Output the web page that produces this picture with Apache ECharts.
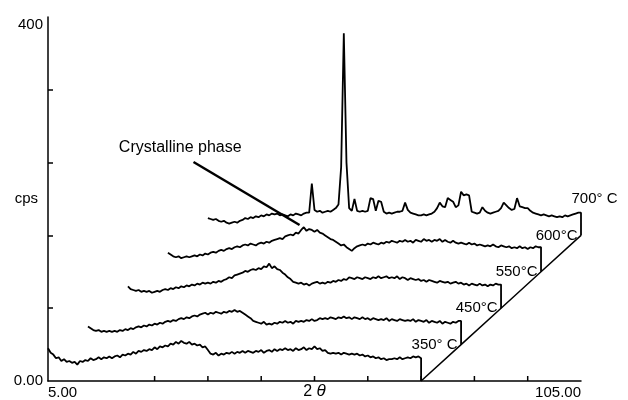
<!DOCTYPE html>
<html>
<head>
<meta charset="utf-8">
<script src="https://cdn.jsdelivr.net/npm/echarts@6.0.0/dist/echarts.min.js"></script>
<style>
  html, body { margin: 0; padding: 0; background: #fff; }
  #main { width: 628px; height: 400px; }
</style>
</head>
<body>
<div id="main"></div>
<script>
// 每条曲线从 2θ = 5° 开始，步长 0.5°，共 141 个点（到 75°）
const thetaStart = 5
const thetaStep = 0.5
// 瀑布图：每条曲线相对上一条的错位
const shiftTheta = 7.5
const shiftCps = 40

const temps = ['350° C', '450°C', '550°C', '600°C', '700° C']

const cps350 = [
  36, 31, 29, 25, 26, 22, 24, 21, 22, 20,
  21, 18, 22, 21, 23, 22, 25, 23, 24, 26,
  24, 26, 25, 27, 25, 27, 28, 26, 29, 28,
  30, 29, 32, 30, 33, 32, 34, 33, 35, 34,
  37, 35, 38, 37, 39, 38, 41, 40, 43, 41,
  44, 42, 41, 43, 40, 41, 39, 40, 37, 38,
  34, 30, 29, 31, 28, 30, 29, 31, 30, 32,
  30, 32, 31, 33, 31, 33, 32, 31, 33, 32,
  34, 31, 33, 34, 32, 35, 33, 35, 34, 36,
  34, 35, 33, 36, 34, 35, 37, 34, 36, 35,
  38, 35, 36, 33, 34, 31, 30, 31, 30, 31,
  29, 31, 30, 29, 30, 29, 30, 28, 29, 27,
  28, 26, 27, 25, 26, 24, 25, 23, 24, 24,
  25, 24, 26, 24, 25, 26, 25, 27, 26, 27,
  25
]
const cps450 = [
  20, 18, 16, 15, 16, 14, 15, 14, 15, 14,
  15, 14, 16, 15, 17, 16, 18, 17, 19, 20,
  19, 21, 20, 22, 21, 23, 22, 24, 23, 25,
  26, 25, 27, 26, 28, 29, 28, 30, 29, 31,
  32, 31, 33, 34, 35, 33, 35, 34, 36, 35,
  34, 36, 35, 37, 36, 38, 36, 37, 35, 33,
  31, 29, 26, 25, 24, 23, 25, 22, 23, 22,
  24, 23, 25, 24, 26, 24, 25, 23, 26, 25,
  26, 25, 27, 26, 28, 26, 27, 29, 28, 29,
  28, 30, 29, 28, 30, 29, 31, 29, 30, 28,
  30, 29, 28, 30, 28, 29, 27, 29, 28, 27,
  28, 27, 29, 26, 28, 27, 26, 28, 27, 26,
  27, 26, 28, 25, 27, 26, 25, 27, 24, 26,
  25, 24, 26, 23, 25, 24, 23, 25, 24, 26,
  26
]
const cps550 = [
  24, 21, 20, 19, 20, 18, 19, 18, 19, 17,
  18, 19, 18, 20, 21, 20, 22, 21, 23, 22,
  24, 23, 25, 24, 26, 25, 27, 26, 28, 27,
  28, 27, 29, 28, 30, 29, 31, 32, 34, 33,
  36, 37, 38, 39, 41, 40, 42, 43, 42, 44,
  43, 46, 45, 49, 44, 46, 43, 42, 39, 37,
  34, 32, 29, 28, 27, 28, 26, 27, 25, 27,
  28, 29, 27, 28, 27, 29, 28, 30, 29, 31,
  30, 32, 31, 34, 33, 32, 34, 33, 32, 34,
  33, 32, 34, 33, 35, 33, 34, 35, 33, 34,
  33, 35, 32, 34, 33, 31, 33, 32, 31, 32,
  30, 31, 29, 31, 30, 29, 28, 30, 29, 28,
  29, 27, 28, 29, 27, 28, 26, 27, 25, 27,
  26, 25, 27, 25, 26, 24, 26, 25, 27, 26,
  26
]
const cps600 = [
  21, 19, 17, 16, 17, 15, 16, 17, 16, 17,
  18, 17, 19, 18, 20, 19, 21, 22, 21, 23,
  24, 23, 25, 26, 25, 27, 28, 27, 29, 30,
  29, 31, 30, 29, 31, 32, 31, 33, 32, 34,
  35, 36, 37, 36, 39, 40, 41, 40, 43, 42,
  46, 49, 45, 47, 46, 44, 46, 43, 42, 40,
  38, 36, 35, 33, 31, 29, 30, 27, 25, 23,
  26, 28, 29, 30, 29, 31, 30, 32, 31, 30,
  32, 31, 33, 32, 34, 33, 32, 34, 33, 35,
  33, 34, 32, 35, 34, 33, 36, 34, 35, 33,
  35, 34, 36, 33, 35, 33, 32, 34, 32, 31,
  32, 31, 30, 32, 30, 31, 29, 30, 29, 28,
  29, 28, 30, 28, 27, 29, 28, 27, 28, 26,
  27, 26, 28, 26, 27, 25, 27, 26, 28, 27,
  27
]
const cps700 = [
  19, 18, 17, 18, 16, 15, 16, 14, 13, 14,
  15, 14, 16, 17, 19, 18, 20, 19, 21, 20,
  22, 21, 23, 22, 24, 23, 24, 22, 23, 22,
  21, 23, 22, 24, 23, 22, 24, 25, 25, 57,
  28, 26, 27, 25, 26, 27, 26, 28, 30, 34,
  75, 222, 80, 30, 27, 40, 27, 26, 27, 26,
  27, 41, 40, 27, 38, 37, 26, 24, 25, 24,
  25, 26, 26, 27, 36, 28, 25, 24, 23, 22,
  22, 23, 22, 23, 24, 26, 30, 36, 32, 31,
  41, 39, 37, 31, 33, 48, 44, 45, 44, 26,
  25, 24, 25, 31, 27, 25, 24, 25, 26, 27,
  30, 36, 33, 30, 28, 29, 41, 32, 31, 30,
  30, 27, 25, 24, 23, 22, 23, 22, 21, 22,
  21, 20, 21, 20, 22, 21, 22, 23, 24, 25,
  25
]
const traces = [cps350, cps450, cps550, cps600, cps700]

const xLabelValues = [5, 105]
const xLabelTexts = ['5.00', '105.00']
const xTickValues = [25, 35, 45, 55, 65, 75, 85, 95]
const yLabelValues = [0, 400]
const yLabelTexts = ['0.00', '400']
const yTickValues = [80, 160, 240, 320]

// 注释文字和箭头（数据坐标）
const noteText = 'Crystalline phase'
const notePos = [18.2, 257]
const arrowFrom = [32.3, 240.7]
const arrowTo = [52.2, 171.4]

const FONT = 'Liberation Sans, Arial, sans-serif'

const chartDom = document.getElementById('main')
const myChart = echarts.init(chartDom)

const thetaEnd = thetaStart + thetaStep * (cps350.length - 1)

const traceSeries = traces.map((vals, i) => {
  const dx = shiftTheta * i
  const dy = shiftCps * i
  const pts = vals.map((v, k) => [thetaStart + thetaStep * k + dx, v + dy])
  // 右端竖线落到斜基线
  pts.push([pts[pts.length - 1][0], dy])
  return {
    name: temps[i],
    type: 'line',
    data: pts,
    symbol: 'none',
    clip: false,
    silent: true,
    lineStyle: { color: '#000', width: 1.8 },
  }
})

// 斜基线
const baseLine = traces.map((_, i) => [thetaEnd + shiftTheta * i, shiftCps * i])

const labelStyle = { color: '#000', opacity: 1, fontSize: 15, fontFamily: FONT }

var option
option = {
  animation: false,
  backgroundColor: '#fff',
  grid: { left: 48, right: 47, top: 17, bottom: 19, containLabel: false, outerBoundsMode: 'none' },
  xAxis: {
    type: 'value',
    min: 5,
    max: 105,
    interval: 10,
    name: '{n|2 }{t|θ}',
    nameLocation: 'middle',
    nameGap: 2,
    nameMoveOverlap: false,
    nameTextStyle: {
      ...labelStyle,
      verticalAlign: 'top',
      rich: {
        n: { ...labelStyle, fontSize: 16 },
        t: { ...labelStyle, fontSize: 17, fontStyle: 'italic' },
      },
    },
    axisLine: { show: true, onZero: false, lineStyle: { color: '#000', width: 1.5 } },
    // 刻度线用下面的 custom 系列画（15 处没有刻度）
    axisTick: { show: false },
    axisLabel: {
      ...labelStyle,
      customValues: xLabelValues,
      formatter: (v) => xLabelTexts[xLabelValues.indexOf(v)] || '',
      margin: 4,
      alignMinLabel: 'left',
      alignMaxLabel: 'right',
    },
    splitLine: { show: false },
  },
  yAxis: {
    type: 'value',
    min: 0,
    max: 400,
    interval: 80,
    name: 'cps',
    nameLocation: 'middle',
    nameRotate: 0,
    nameGap: 10,
    nameMoveOverlap: false,
    nameTextStyle: labelStyle,
    axisLine: { show: true, onZero: false, lineStyle: { color: '#000', width: 1.5 } },
    axisTick: { show: true, inside: true, length: 5, customValues: yTickValues, lineStyle: { color: '#000', width: 1.5 } },
    axisLabel: {
      ...labelStyle,
      customValues: yLabelValues,
      formatter: (v) => yLabelTexts[yLabelValues.indexOf(v)] || '',
      margin: 5,
      verticalAlignMaxLabel: 'top',
    },
    splitLine: { show: false },
  },
  series: [
    ...traceSeries,
    {
      name: 'base',
      type: 'line',
      data: baseLine,
      symbol: 'none',
      clip: false,
      silent: true,
      lineStyle: { color: '#000', width: 1.5 },
      markLine: {
        silent: true,
        symbol: ['none', 'arrow'],
        symbolSize: [0, 10],
        label: { show: false },
        lineStyle: { color: '#000', width: 2.5, type: 'solid' },
        data: [[{ coord: arrowFrom }, { coord: arrowTo }]],
      },
    },
    {
      name: 'xTicks',
      type: 'custom',
      silent: true,
      clip: false,
      data: xTickValues.map((v) => [v, 0]),
      renderItem: (params, api) => {
        const p = api.coord([api.value(0), api.value(1)])
        return {
          type: 'line',
          shape: { x1: p[0], y1: p[1], x2: p[0], y2: p[1] - 5 },
          style: { stroke: '#000', lineWidth: 1.5 },
        }
      },
    },
    {
      name: 'temps',
      type: 'scatter',
      clip: false,
      silent: true,
      symbolSize: 1,
      itemStyle: { color: 'rgba(0,0,0,0)' },
      data: temps.map((t, i) => [thetaEnd + shiftTheta * (i + 1), shiftCps * (i + 1)]),
      label: {
        ...labelStyle,
        show: true,
        position: 'left',
        distance: 3,
        formatter: (p) => temps[p.dataIndex],
      },
    },
    {
      name: 'note',
      type: 'scatter',
      clip: false,
      silent: true,
      symbolSize: 1,
      itemStyle: { color: 'rgba(0,0,0,0)' },
      data: [notePos],
      label: {
        ...labelStyle,
        show: true,
        position: 'right',
        distance: 0,
        formatter: noteText,
        fontSize: 16,
      },
    },
  ],
}
option && myChart.setOption(option)
</script>
</body>
</html>
